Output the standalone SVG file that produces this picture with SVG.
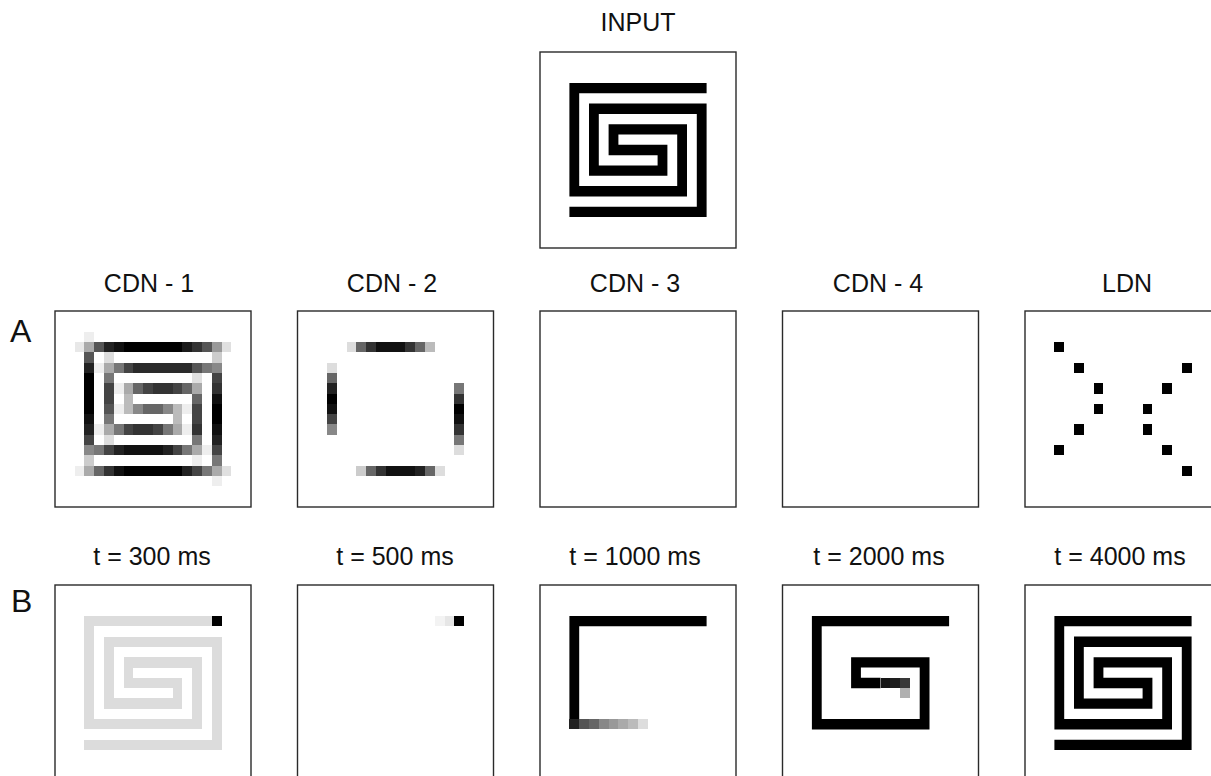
<svg xmlns="http://www.w3.org/2000/svg" xmlns:xlink="http://www.w3.org/1999/xlink" width="1211" height="776" viewBox="0 0 1211 776">
<style>
.frame{fill:#fff;stroke:#2a2a2a;stroke-width:1.4}
.lbl{font-family:"Liberation Sans",Arial,Helvetica,sans-serif;font-size:25px;fill:#111;text-anchor:middle}
.big{font-family:"Liberation Sans",Arial,Helvetica,sans-serif;font-size:32px;fill:#111}
.sp{fill:none;stroke:#000;stroke-width:1;stroke-linecap:square;stroke-linejoin:miter}
.cells rect,.cells use{shape-rendering:crispEdges}
</style>
<defs>
<path id="spiral" d="M13.5,0.5H0.5V10.5H11.5V4.5H4.5V6.5H9.5V8.5H2.5V2.5H13.5V12.5H0.5"/>
<rect id="k" width="1" height="1"/>
</defs>
<rect width="1211" height="776" fill="#fff"/>
<g id="connectors"/>

<g id="labels">
<text class="lbl" x="638" y="31">INPUT</text>
<text class="lbl" x="149" y="292">CDN - 1</text>
<text class="lbl" x="392" y="292">CDN - 2</text>
<text class="lbl" x="635" y="292">CDN - 3</text>
<text class="lbl" x="878" y="292">CDN - 4</text>
<text class="lbl" x="1127" y="292">LDN</text>
<text class="lbl" x="152" y="565">t = 300 ms</text>
<text class="lbl" x="395" y="565">t = 500 ms</text>
<text class="lbl" x="635" y="565">t = 1000 ms</text>
<text class="lbl" x="879" y="565">t = 2000 ms</text>
<text class="lbl" x="1120" y="565">t = 4000 ms</text>
<text class="big" x="10" y="342">A</text>
<text class="big" x="11" y="612">B</text>
</g>

<g id="input" transform="translate(540,52)">
<rect class="frame" width="196" height="196"/>
<g transform="translate(29.4,30.95) scale(9.8,10.316)"><use href="#spiral" class="sp"/></g>
</g>

<g id="cdn1" transform="translate(55,311)">
<rect class="frame" width="196" height="196"/>
<g class="cells" transform="translate(29.4,30.95) scale(9.8,10.316)">
<use href="#k" x="0" y="-1" fill="#eee"/>
<use href="#k" x="-1" y="0" fill="#e8e8e8"/><use href="#k" x="0" y="0" fill="#aaa"/><use href="#k" x="1" y="0" fill="#555"/><use href="#k" x="2" y="0" fill="#222"/><use href="#k" x="3" y="0" fill="#111"/>
<rect x="4" y="0" width="6" height="1" fill="#000"/>
<use href="#k" x="10" y="0" fill="#1a1a1a"/><use href="#k" x="11" y="0" fill="#333"/><use href="#k" x="12" y="0" fill="#555"/><use href="#k" x="13" y="0" fill="#999"/><use href="#k" x="14" y="0" fill="#e0e0e0"/>
<use href="#k" x="0" y="1" fill="#555"/><use href="#k" x="2" y="1" fill="#ddd"/><use href="#k" x="13" y="1" fill="#ccc"/>
<use href="#k" x="0" y="2" fill="#222"/><use href="#k" x="1" y="2" fill="#eee"/><use href="#k" x="2" y="2" fill="#aaa"/><use href="#k" x="3" y="2" fill="#777"/><use href="#k" x="4" y="2" fill="#444"/>
<rect x="5" y="2" width="6" height="1" fill="#2a2a2a"/>
<use href="#k" x="11" y="2" fill="#555"/><use href="#k" x="12" y="2" fill="#777"/><use href="#k" x="13" y="2" fill="#888"/>
<use href="#k" x="0" y="3" fill="#000"/><use href="#k" x="2" y="3" fill="#777"/><use href="#k" x="11" y="3" fill="#e0e0e0"/><use href="#k" x="13" y="3" fill="#444"/>
<use href="#k" x="0" y="4" fill="#000"/><use href="#k" x="2" y="4" fill="#444"/><use href="#k" x="3" y="4" fill="#eee"/><use href="#k" x="4" y="4" fill="#aaa"/><use href="#k" x="5" y="4" fill="#666"/><use href="#k" x="6" y="4" fill="#444"/><use href="#k" x="7" y="4" fill="#333"/><use href="#k" x="8" y="4" fill="#333"/><use href="#k" x="9" y="4" fill="#444"/><use href="#k" x="10" y="4" fill="#666"/><use href="#k" x="11" y="4" fill="#aaa"/><use href="#k" x="13" y="4" fill="#333"/>
<use href="#k" x="0" y="5" fill="#000"/><use href="#k" x="2" y="5" fill="#444"/><use href="#k" x="4" y="5" fill="#bbb"/><use href="#k" x="11" y="5" fill="#666"/><use href="#k" x="13" y="5" fill="#111"/>
<use href="#k" x="0" y="6" fill="#000"/><use href="#k" x="2" y="6" fill="#555"/><use href="#k" x="3" y="6" fill="#eee"/><use href="#k" x="4" y="6" fill="#bbb"/><use href="#k" x="5" y="6" fill="#888"/><use href="#k" x="6" y="6" fill="#666"/><use href="#k" x="7" y="6" fill="#666"/><use href="#k" x="8" y="6" fill="#888"/><use href="#k" x="9" y="6" fill="#bbb"/><use href="#k" x="10" y="6" fill="#eee"/><use href="#k" x="11" y="6" fill="#444"/><use href="#k" x="13" y="6" fill="#000"/>
<use href="#k" x="0" y="7" fill="#111"/><use href="#k" x="2" y="7" fill="#777"/><use href="#k" x="9" y="7" fill="#bbb"/><use href="#k" x="11" y="7" fill="#444"/><use href="#k" x="13" y="7" fill="#000"/>
<use href="#k" x="0" y="8" fill="#222"/><use href="#k" x="1" y="8" fill="#eee"/><use href="#k" x="2" y="8" fill="#aaa"/><use href="#k" x="3" y="8" fill="#777"/><use href="#k" x="4" y="8" fill="#444"/><use href="#k" x="5" y="8" fill="#333"/><use href="#k" x="6" y="8" fill="#333"/><use href="#k" x="7" y="8" fill="#444"/><use href="#k" x="8" y="8" fill="#777"/><use href="#k" x="9" y="8" fill="#aaa"/><use href="#k" x="10" y="8" fill="#eee"/><use href="#k" x="11" y="8" fill="#333"/><use href="#k" x="13" y="8" fill="#111"/>
<use href="#k" x="0" y="9" fill="#444"/><use href="#k" x="2" y="9" fill="#ddd"/><use href="#k" x="11" y="9" fill="#777"/><use href="#k" x="13" y="9" fill="#222"/>
<use href="#k" x="0" y="10" fill="#888"/><use href="#k" x="1" y="10" fill="#777"/><use href="#k" x="2" y="10" fill="#444"/><use href="#k" x="3" y="10" fill="#222"/>
<rect x="4" y="10" width="4" height="1" fill="#111"/>
<use href="#k" x="8" y="10" fill="#222"/><use href="#k" x="9" y="10" fill="#444"/><use href="#k" x="10" y="10" fill="#777"/><use href="#k" x="11" y="10" fill="#aaa"/><use href="#k" x="12" y="10" fill="#eee"/><use href="#k" x="13" y="10" fill="#444"/>
<use href="#k" x="0" y="11" fill="#ccc"/><use href="#k" x="11" y="11" fill="#eee"/><use href="#k" x="13" y="11" fill="#777"/>
<use href="#k" x="-1" y="12" fill="#eee"/><use href="#k" x="0" y="12" fill="#aaa"/><use href="#k" x="1" y="12" fill="#666"/><use href="#k" x="2" y="12" fill="#333"/><use href="#k" x="3" y="12" fill="#111"/>
<rect x="4" y="12" width="6" height="1" fill="#000"/>
<use href="#k" x="10" y="12" fill="#222"/><use href="#k" x="11" y="12" fill="#444"/><use href="#k" x="12" y="12" fill="#777"/><use href="#k" x="13" y="12" fill="#aaa"/><use href="#k" x="14" y="12" fill="#e0e0e0"/>
<use href="#k" x="13" y="13" fill="#eee"/>
</g>
</g>

<g id="cdn2" transform="translate(297.5,311)">
<rect class="frame" width="196" height="196"/>
<g class="cells" transform="translate(29.4,30.95) scale(9.8,10.316)">
<use href="#k" x="2" y="0" fill="#ddd"/><use href="#k" x="3" y="0" fill="#666"/><use href="#k" x="4" y="0" fill="#333"/><use href="#k" x="5" y="0" fill="#111"/><use href="#k" x="6" y="0" fill="#111"/><use href="#k" x="7" y="0" fill="#111"/><use href="#k" x="8" y="0" fill="#333"/><use href="#k" x="9" y="0" fill="#666"/><use href="#k" x="10" y="0" fill="#bbb"/>
<use href="#k" x="0" y="2" fill="#ddd"/><use href="#k" x="0" y="3" fill="#666"/><use href="#k" x="0" y="4" fill="#222"/><use href="#k" x="0" y="5" fill="#000"/><use href="#k" x="0" y="6" fill="#111"/><use href="#k" x="0" y="7" fill="#444"/><use href="#k" x="0" y="8" fill="#888"/>
<use href="#k" x="13" y="4" fill="#777"/><use href="#k" x="13" y="5" fill="#333"/><use href="#k" x="13" y="6" fill="#000"/><use href="#k" x="13" y="7" fill="#111"/><use href="#k" x="13" y="8" fill="#333"/><use href="#k" x="13" y="9" fill="#777"/><use href="#k" x="13" y="10" fill="#ddd"/>
<use href="#k" x="3" y="12" fill="#ccc"/><use href="#k" x="4" y="12" fill="#666"/><use href="#k" x="5" y="12" fill="#333"/><use href="#k" x="6" y="12" fill="#111"/><use href="#k" x="7" y="12" fill="#111"/><use href="#k" x="8" y="12" fill="#111"/><use href="#k" x="9" y="12" fill="#222"/><use href="#k" x="10" y="12" fill="#666"/><use href="#k" x="11" y="12" fill="#ddd"/>
</g>
</g>

<g id="cdn3" transform="translate(540,311)">
<rect class="frame" width="196" height="196"/>
</g>

<g id="cdn4" transform="translate(782.5,311)">
<rect class="frame" width="196" height="196"/>
</g>

<g id="ldn" transform="translate(1025,311)">
<rect class="frame" width="196" height="196"/>
<g class="cells" transform="translate(29.4,30.95) scale(9.8,10.316)" fill="#000">
<use href="#k" x="0" y="0"/><use href="#k" x="2" y="2"/><use href="#k" x="4" y="4"/><use href="#k" x="4" y="6"/><use href="#k" x="2" y="8"/><use href="#k" x="0" y="10"/>
<use href="#k" x="13" y="2"/><use href="#k" x="11" y="4"/><use href="#k" x="9" y="6"/><use href="#k" x="9" y="8"/><use href="#k" x="11" y="10"/><use href="#k" x="13" y="12"/>
</g>
</g>

<g id="t300" transform="translate(55,585)">
<rect class="frame" width="196" height="196"/>
<g class="cells" transform="translate(29.4,30.95) scale(9.8,10.316)">
<use href="#spiral" class="sp" style="stroke:#dcdcdc"/>
<use href="#k" x="13" y="0" fill="#000"/>
</g>
</g>

<g id="t500" transform="translate(297.5,585)">
<rect class="frame" width="196" height="196"/>
<g class="cells" transform="translate(29.4,30.95) scale(9.8,10.316)">
<use href="#k" x="11" y="0" fill="#f3f3f3"/><use href="#k" x="12" y="0" fill="#e6e6e6"/><use href="#k" x="13" y="0" fill="#000"/>
</g>
</g>

<g id="t1000" transform="translate(540,585)">
<rect class="frame" width="196" height="196"/>
<g class="cells" transform="translate(29.4,30.95) scale(9.8,10.316)">
<path class="sp" d="M13.5,0.5H0.5V9.5"/>
<use href="#k" x="0" y="10" fill="#222"/><use href="#k" x="1" y="10" fill="#555"/><use href="#k" x="2" y="10" fill="#666"/><use href="#k" x="3" y="10" fill="#888"/><use href="#k" x="4" y="10" fill="#999"/><use href="#k" x="5" y="10" fill="#aaa"/><use href="#k" x="6" y="10" fill="#bbb"/><use href="#k" x="7" y="10" fill="#ddd"/>
</g>
</g>

<g id="t2000" transform="translate(782.5,585)">
<rect class="frame" width="196" height="196"/>
<g class="cells" transform="translate(29.4,30.95) scale(9.8,10.316)">
<path class="sp" d="M13.5,0.5H0.5V10.5H11.5V4.5H4.5V6.5H6.5"/>
<use href="#k" x="7" y="6" fill="#151515"/><use href="#k" x="8" y="6" fill="#1e1e1e"/><use href="#k" x="9" y="6" fill="#383838"/><use href="#k" x="9" y="7" fill="#b0b0b0"/>
</g>
</g>

<g id="t4000" transform="translate(1025,585)">
<rect class="frame" width="196" height="196"/>
<g transform="translate(29.4,30.95) scale(9.8,10.316)"><use href="#spiral" class="sp"/></g>
</g>
</svg>
